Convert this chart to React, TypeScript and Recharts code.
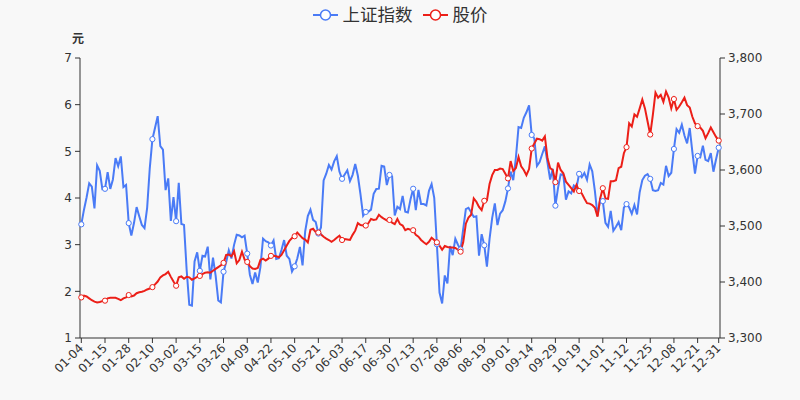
import React from 'react';
import { LineChart, Line, XAxis, YAxis } from 'recharts';

// trading days of 2021, per month
const JAN = [4, 5, 6, 7, 8, 11, 12, 13, 14, 15, 18, 19, 20, 21, 22, 25, 26, 27, 28, 29];
const FEB = [1, 2, 3, 4, 5, 8, 9, 10, 18, 19, 22, 23, 24, 25, 26];
const MAR = [1, 2, 3, 4, 5, 8, 9, 10, 11, 12, 15, 16, 17, 18, 19, 22, 23, 24, 25, 26, 29, 30, 31];
const APR = [1, 2, 6, 7, 8, 9, 12, 13, 14, 15, 16, 19, 20, 21, 22, 23, 26, 27, 28, 29, 30];
const MAY = [6, 7, 10, 11, 12, 13, 14, 17, 18, 19, 20, 21, 24, 25, 26, 27, 28, 31];
const JUN = [1, 2, 3, 4, 7, 8, 9, 10, 11, 15, 16, 17, 18, 21, 22, 23, 24, 25, 28, 29, 30];
const JUL = [1, 2, 5, 6, 7, 8, 9, 12, 13, 14, 15, 16, 19, 20, 21, 22, 23, 26, 27, 28, 29, 30];
const AUG = [2, 3, 4, 5, 6, 9, 10, 11, 12, 13, 16, 17, 18, 19, 20, 23, 24, 25, 26, 27, 30, 31];
const SEP = [1, 2, 3, 6, 7, 8, 9, 10, 13, 14, 15, 16, 17, 22, 23, 24, 27, 28, 29, 30];
const OCT = [8, 11, 12, 13, 14, 15, 18, 19, 20, 21, 22, 25, 26, 27, 28, 29];
const NOV = [1, 2, 3, 4, 5, 8, 9, 10, 11, 12, 15, 16, 17, 18, 19, 22, 23, 24, 25, 26, 29, 30];
const DEC = [1, 2, 3, 6, 7, 8, 9, 10, 13, 14, 15, 16, 17, 20, 21, 22, 23, 24, 27, 28, 29, 30, 31];
const MONTHS: [string, number[]][] = [
  ['01', JAN], ['02', FEB], ['03', MAR], ['04', APR], ['05', MAY], ['06', JUN],
  ['07', JUL], ['08', AUG], ['09', SEP], ['10', OCT], ['11', NOV], ['12', DEC],
];
const DATES = MONTHS.flatMap(([m, days]) => days.map((d) => `${m}-${String(d).padStart(2, '0')}`));

// 上证指数 (right axis)
const SH_INDEX = [
  3502.96, 3528.68, 3550.88, 3576.2, 3570.11, 3531.5, 3608.34, 3598.65, 3565.9, 3566.38, 3596.22, 3566.26, 3583.09, 3621.26, 3606.75, 3624.24, 3569.43, 3573.34, 3505.18, 3483.07,
  3505.28, 3533.68, 3517.31, 3501.86, 3496.33, 3532.44, 3603.49, 3655.09, 3675.36, 3696.17, 3642.44, 3636.36, 3564.08, 3585.05, 3509.08,
  3551.4, 3508.59, 3576.9, 3503.49, 3501.99, 3421.41, 3359.29, 3357.74, 3436.83, 3453.08, 3419.95, 3446.73, 3445.55, 3463.07, 3404.66, 3443.44, 3411.51, 3367.06, 3363.59, 3418.33, 3435.3, 3456.68, 3441.91,
  3466.33, 3484.39, 3482.98, 3479.63, 3482.55, 3450.68, 3412.95, 3396.47, 3416.94, 3398.99, 3426.62, 3477.55, 3472.94, 3471.0, 3465.11, 3474.17, 3441.17, 3442.61, 3457.07, 3474.9, 3446.86,
  3441.28, 3418.87, 3427.99, 3441.85, 3462.75, 3429.54, 3490.38, 3517.62, 3529.01, 3510.96, 3506.94, 3486.56, 3497.28, 3581.34, 3593.36, 3608.85, 3600.78, 3615.48,
  3624.71, 3597.14, 3584.22, 3591.84, 3599.54, 3580.11, 3591.4, 3610.86, 3589.75, 3556.56, 3518.33, 3525.1, 3525.6, 3529.18, 3557.41, 3566.22, 3566.65, 3607.56, 3606.37, 3573.18, 3591.2,
  3588.78, 3518.76, 3534.32, 3530.26, 3553.72, 3525.5, 3524.09, 3547.84, 3566.53, 3528.5, 3564.59, 3539.3, 3539.12, 3536.79, 3562.7, 3574.73, 3550.4, 3467.44, 3381.18, 3361.59, 3411.72, 3397.36,
  3464.29, 3447.99, 3477.22, 3466.56, 3458.23, 3494.63, 3529.93, 3532.62, 3524.74, 3516.3, 3517.34, 3446.98, 3485.29, 3465.55, 3427.33, 3477.13, 3514.47, 3540.38, 3501.66, 3522.16, 3528.15, 3543.94,
  3567.1, 3597.04, 3581.73, 3621.86, 3676.59, 3675.19, 3693.13, 3703.11, 3715.37, 3662.6, 3656.22, 3607.09, 3613.97, 3628.49, 3642.22, 3613.07, 3582.83, 3602.22, 3536.29, 3568.17,
  3592.17, 3591.71, 3546.94, 3561.76, 3558.28, 3572.37, 3568.14, 3593.15, 3587.0, 3594.78, 3582.6, 3609.86, 3597.64, 3562.31, 3518.42, 3547.34,
  3544.48, 3505.63, 3498.54, 3526.87, 3491.57, 3498.63, 3507.0, 3492.46, 3532.79, 3539.1, 3533.3, 3521.79, 3537.37, 3520.71, 3560.37, 3582.08, 3589.75, 3592.7, 3584.18, 3564.09, 3562.7, 3563.89,
  3576.89, 3573.84, 3607.43, 3589.31, 3595.09, 3637.57, 3673.04, 3666.35, 3681.08, 3661.53, 3647.63, 3675.02, 3632.36, 3593.6, 3625.13, 3622.62, 3643.34, 3618.05, 3615.97, 3630.11, 3597.0, 3619.19, 3639.78,
];

// 股价 in 元 (left axis)
const PRICE = [
  1.87, 1.91, 1.89, 1.85, 1.81, 1.78, 1.76, 1.77, 1.79, 1.8, 1.85, 1.86, 1.86, 1.86, 1.84, 1.81, 1.85, 1.87, 1.92, 1.89,
  1.91, 1.96, 1.98, 1.99, 2.01, 2.04, 2.06, 2.09, 2.15, 2.21, 2.3, 2.34, 2.37, 2.42, 2.31,
  2.21, 2.12, 2.3, 2.32, 2.27, 2.31, 2.3, 2.25, 2.28, 2.31, 2.33, 2.37, 2.4, 2.41, 2.4, 2.44, 2.48, 2.52, 2.56, 2.61, 2.78, 2.79, 2.75,
  2.86, 2.6, 2.67, 2.85, 2.68, 2.63, 2.54, 2.49, 2.48, 2.5, 2.67, 2.7, 2.66, 2.7, 2.76, 2.76, 2.75, 2.73, 2.78, 2.88, 2.98,
  3.08, 3.14, 3.18, 3.26, 3.2, 3.14, 3.11, 3.05, 3.32, 3.34, 3.27, 3.26, 3.22, 3.17, 3.13, 3.1, 3.06, 3.1,
  3.15, 3.19, 3.1, 3.12, 3.11, 3.1, 3.21, 3.3, 3.46, 3.42, 3.41, 3.41, 3.46, 3.55, 3.53, 3.54, 3.64, 3.59, 3.55, 3.52, 3.53,
  3.47, 3.44, 3.55, 3.44, 3.41, 3.31, 3.34, 3.32, 3.31, 3.21, 3.17, 3.1, 3.05, 3.01, 3.06, 3.15, 3.1, 3.05, 2.98, 2.89, 2.97, 2.95,
  2.94, 2.94, 2.93, 2.89, 2.85, 3.05, 3.45, 3.58, 3.64, 3.99, 3.92, 3.81, 3.74, 3.94, 3.95, 4.3, 4.49, 4.6, 4.6, 4.63, 4.62, 4.52,
  4.42, 4.79, 4.58, 4.64, 4.88, 4.68, 4.6, 4.49, 4.62, 5.06, 5.17, 5.27, 5.26, 5.23, 5.32, 4.85, 4.64, 4.6, 4.34, 4.76,
  4.6, 4.53, 4.35, 4.28, 4.21, 4.14, 4.28, 4.15, 4.1, 3.99, 3.89, 3.88, 3.85, 3.79, 3.6, 3.99,
  4.21, 3.99, 3.98, 4.36, 4.36, 4.38, 4.64, 4.67, 4.96, 5.09, 5.6, 5.53, 5.79, 5.74, 5.92, 6.11, 5.92, 5.64, 5.36, 5.78, 6.26, 6.15,
  6.21, 6.06, 6.28, 6.15, 5.92, 6.12, 5.89, 5.96, 6.05, 6.15, 5.99, 5.94, 5.74, 5.6, 5.54, 5.51, 5.44, 5.28, 5.39, 5.51, 5.41, 5.31, 5.23,
];

const X_TICKS = [
  '01-04', '01-15', '01-28', '02-10', '03-02', '03-15', '03-26', '04-09', '04-22', '05-10', '05-21', '06-03', '06-17', '06-30',
  '07-13', '07-26', '08-06', '08-19', '09-01', '09-14', '09-29', '10-19', '11-01', '11-12', '11-25', '12-08', '12-21', '12-31',
];
const LEFT_TICKS = [1, 2, 3, 4, 5, 6, 7];
const RIGHT_TICKS = [3300, 3400, 3500, 3600, 3700, 3800];

const data = DATES.map((date, i) => ({ date, sh: SH_INDEX[i], price: PRICE[i] }));

const BLUE = '#4a7bf6';
const RED = '#ec1f18';
const FONT = '"DejaVu Sans", "Noto Sans CJK SC", sans-serif';
const AXIS = '#333';

const makeDot = (color: string) => (props: any) => {
  const { cx, cy, index } = props;
  if (index % 9 !== 0 && index !== DATES.length - 1) return <g key={`n-${index}`} />;
  return <circle key={`d-${index}`} cx={cx} cy={cy} r={2.6} fill="#fff" stroke={color} strokeWidth={1} />;
};

const XTick = (props: any) => {
  const { x, y, payload } = props;
  return (
    <text x={x} y={y} transform={`rotate(-45 ${x} ${y})`} textAnchor="end" dominantBaseline="central"
      fontSize={12} fill={AXIS} fontFamily={FONT}>
      {payload.value}
    </text>
  );
};

function LegendItem({ color, label }: { color: string; label: string }) {
  return (
    <span style={{ display: 'inline-flex', alignItems: 'center', margin: '0 5px' }}>
      <svg width={25} height={14} style={{ marginRight: 5 }}>
        <line x1={0} y1={7} x2={25} y2={7} stroke={color} strokeWidth={2} />
        <circle cx={12.5} cy={7} r={5} fill="#fff" stroke={color} strokeWidth={1.5} />
      </svg>
      {label}
    </span>
  );
}

export default function App() {
  return (
    <div style={{ position: 'absolute', left: 0, top: 0, width: 800, height: 400, background: '#f8f8f8', fontFamily: FONT }}>
      <div style={{ position: 'absolute', top: 3, left: 0, width: 800, textAlign: 'center', fontSize: 17.5, color: '#333', lineHeight: '24px' }}>
        <LegendItem color={BLUE} label="上证指数" />
        <LegendItem color={RED} label="股价" />
      </div>
      <div style={{ position: 'absolute', left: 70, top: 29, width: 16, textAlign: 'center', fontSize: 12, fontWeight: 'bold', color: '#333' }}>元</div>
      <LineChart width={800} height={400} data={data} margin={{ top: 58, right: 0, bottom: 0, left: 0 }}>
        <XAxis dataKey="date" ticks={X_TICKS} interval={0} height={62} padding={{ left: 1.3, right: 1.3 }}
          axisLine={{ stroke: AXIS }} tickLine={{ stroke: AXIS }} tickSize={5} tickMargin={3} tick={<XTick />} />
        <YAxis yAxisId="left" orientation="left" width={80} domain={[1, 7]} ticks={LEFT_TICKS} interval={0}
          axisLine={{ stroke: AXIS }} tickLine={{ stroke: AXIS }} tickSize={5} tickMargin={3}
          tick={{ fill: AXIS, fontSize: 12, fontFamily: FONT }} />
        <YAxis yAxisId="right" orientation="right" width={80} domain={[3300, 3800]} ticks={RIGHT_TICKS} interval={0}
          axisLine={{ stroke: AXIS }} tickLine={{ stroke: AXIS }} tickSize={5} tickMargin={3}
          tickFormatter={(v: number) => v.toLocaleString('en-US')}
          tick={{ fill: AXIS, fontSize: 12, fontFamily: FONT }} />
        <Line yAxisId="right" type="linear" dataKey="sh" name="上证指数" stroke={BLUE} strokeWidth={2}
          dot={makeDot(BLUE)} activeDot={false} isAnimationActive={false} />
        <Line yAxisId="left" type="linear" dataKey="price" name="股价" stroke={RED} strokeWidth={2}
          dot={makeDot(RED)} activeDot={false} isAnimationActive={false} />
      </LineChart>
    </div>
  );
}
